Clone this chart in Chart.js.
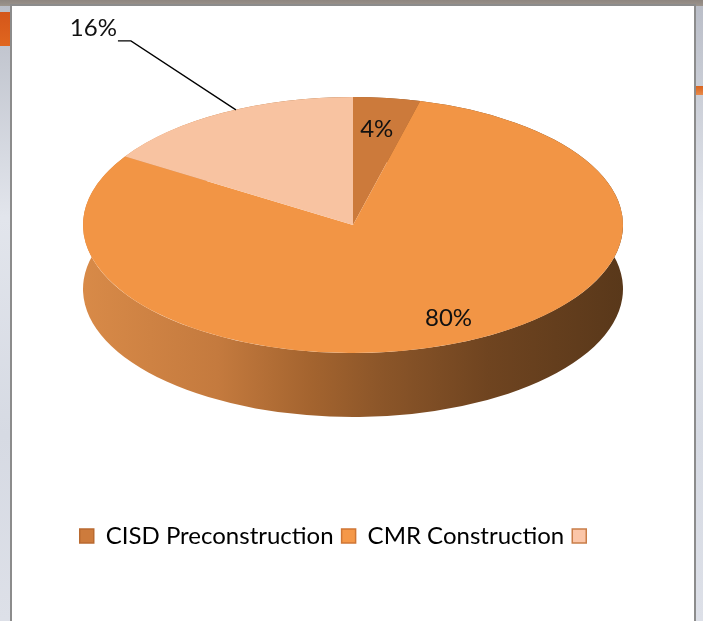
<!DOCTYPE html>
<html>
<head>
<meta charset="utf-8">
<script src="https://cdn.jsdelivr.net/npm/chart.js@4"></script>
<style>
  html, body { margin: 0; padding: 0; width: 703px; height: 621px; overflow: hidden; }
  body {
    position: relative;
    background:
      linear-gradient(#8e8680, #9c948c) 0 0 / 703px 6px no-repeat,
      linear-gradient(#d4561a, #e0661f) 0 12px / 12px 34px no-repeat,
      linear-gradient(#d8631e, #e88a4a) 690px 86px / 13px 9px no-repeat,
      linear-gradient(to bottom, #b9bdc7 0, #e2e5ec 35%, #d6dae3 70%, #dde0e8 100%);
  }
  #panel {
    position: absolute; left: 10px; top: 4px; width: 686px; height: 640px;
    background: #fff; border: 2px solid #8c8c8c; box-sizing: border-box;
  }
  #chart { position: absolute; left: 0; top: 0; }
</style>
</head>
<body>
<div id="panel"></div>
<canvas id="chart" width="703" height="621"></canvas>
<script>
// data
const categories = ['CISD Preconstruction', 'CMR Construction', ''];
const shares = [4, 80, 16];
const pctLabels = ['4%', '80%', '16%'];

// colours
const topColors = ['#cc7a3b', '#f29545', '#f8c3a1'];
const legendFill = ['#cd7b3c', '#f59848', '#fbc6a8'];
const legendStroke = ['#b96a30', '#cf7634', '#c97d48'];

const FONT = "Lato, 'Liberation Sans Narrow', sans-serif";
const FONT_SIZE = 24;

// 3d look
const tilt = 128 / 270;   // ellipse ry / rx
const depth = 64;         // side height in px
const centerX = 353;
const centerY = 225;

function toScreen(a, f, angle) {
    const r = a.outerRadius * f;
    return {
        x: centerX + r * Math.cos(angle),
        y: centerY + r * Math.sin(angle) * tilt
    };
}

const pie3d = {
    id: 'pie3d',
    beforeDatasetsDraw(chart) {
        const ctx = chart.ctx;
        const arcs = chart.getDatasetMeta(0).data;
        const cx = arcs[0].x, cy = arcs[0].y;
        ctx.save();
        ctx.translate(centerX, centerY);
        ctx.scale(1, tilt);
        ctx.translate(-cx, -cy);

        // side wall of the disc
        const r = arcs[0].outerRadius;
        const grad = ctx.createLinearGradient(cx - r, 0, cx + r, 0);
        grad.addColorStop(0, '#d88a48');
        grad.addColorStop(0.25, '#c47a3e');
        grad.addColorStop(0.42, '#a4642f');
        grad.addColorStop(0.55, '#8c5629');
        grad.addColorStop(0.75, '#6f4420');
        grad.addColorStop(1, '#59381a');
        const dy = depth / tilt;
        ctx.fillStyle = grad;
        arcs.forEach(a => {
            ctx.beginPath();
            ctx.arc(a.x, a.y, a.outerRadius, a.startAngle, a.endAngle);
            ctx.arc(a.x, a.y + dy, a.outerRadius, a.endAngle, a.startAngle, true);
            ctx.closePath();
            ctx.fill();
        });
    },
    afterDatasetsDraw(chart) {
        const ctx = chart.ctx;
        ctx.restore();
        const arcs = chart.getDatasetMeta(0).data;

        ctx.save();
        ctx.fillStyle = '#111';
        ctx.font = FONT_SIZE + 'px ' + FONT;
        ctx.textBaseline = 'middle';
        ctx.textAlign = 'center';
        // inside labels
        const nudge = [[-2, 1], [16, -2]];
        [0, 1].forEach(i => {
            const a = arcs[i];
            const mid = (a.startAngle + a.endAngle) / 2;
            const p = toScreen(a, i === 0 ? 0.76 : 0.8, mid);
            ctx.fillText(pctLabels[i], p.x + nudge[i][0], p.y + nudge[i][1]);
        });
        // outside label with leader line
        const a = arcs[2];
        const mid = (a.startAngle + a.endAngle) / 2;
        const edge = toScreen(a, 1, mid);
        const start = { x: edge.x + 13, y: edge.y - 3 };
        const elbow = { x: start.x - 105, y: start.y - 69 };
        ctx.strokeStyle = '#000';
        ctx.lineWidth = 1.3;
        ctx.beginPath();
        ctx.moveTo(start.x, start.y);
        ctx.lineTo(elbow.x, elbow.y);
        ctx.lineTo(elbow.x - 13, elbow.y);
        ctx.stroke();
        ctx.textAlign = 'right';
        ctx.fillText(pctLabels[2], elbow.x - 14, elbow.y - 13);
        ctx.restore();
    }
};

new Chart(document.getElementById('chart'), {
    type: 'pie',
    data: {
        labels: categories,
        datasets: [{
            data: shares,
            backgroundColor: topColors,
            borderWidth: 0,
            radius: 270
        }]
    },
    options: {
        responsive: false,
        animation: false,
        events: [],
        layout: { padding: { left: 0, right: 25, top: 0, bottom: 63 } },
        plugins: {
            tooltip: { enabled: false },
            legend: {
                position: 'bottom',
                labels: {
                    boxWidth: 14,
                    boxHeight: 14,
                    padding: 8,
                    color: '#111',
                    font: { family: FONT, size: FONT_SIZE },
                    generateLabels() {
                        return categories.map((c, i) => ({
                            text: c,
                            fillStyle: legendFill[i],
                            strokeStyle: legendStroke[i],
                            lineWidth: 1.5,
                            hidden: false,
                            index: i
                        }));
                    }
                }
            }
        }
    },
    plugins: [pie3d]
});
</script>
</body>
</html>
